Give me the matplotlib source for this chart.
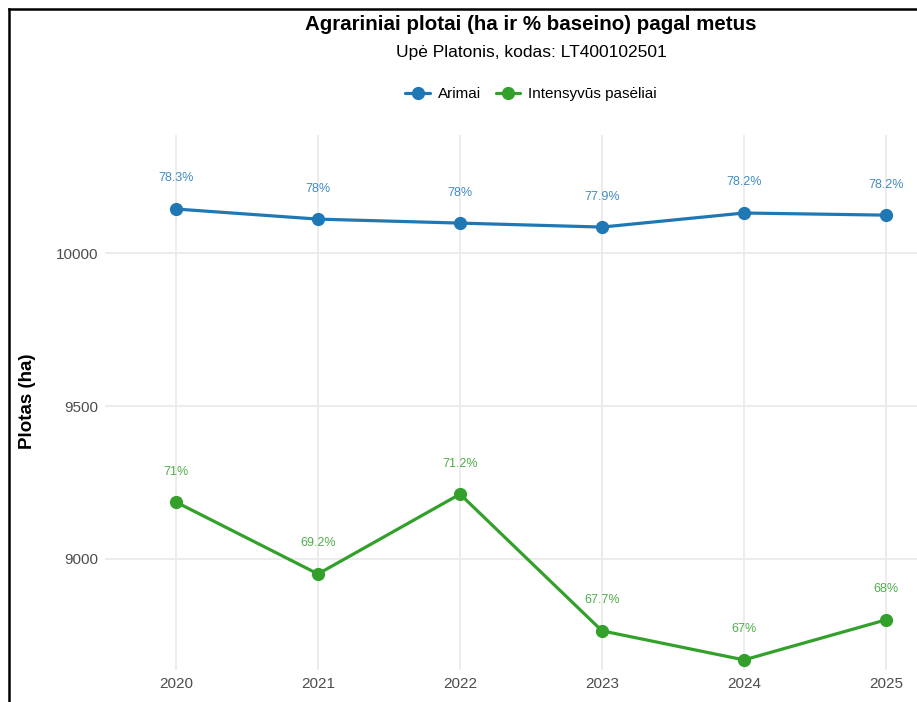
import matplotlib
matplotlib.use('Agg')
import matplotlib.pyplot as plt
from matplotlib.lines import Line2D

# duomenys (nuskaityta nuo paveikslo)
years = [2020, 2021, 2022, 2023, 2024, 2025]
arimai_ha = [10144, 10111, 10098, 10085, 10131, 10124]
arimai_pct = ["78.3%", "78%", "78%", "77.9%", "78.2%", "78.2%"]
intens_ha = [9186, 8951, 9212, 8765, 8670, 8801]
intens_pct = ["71%", "69.2%", "71.2%", "67.7%", "67%", "68%"]

BLUE = "#1f78b4"
GREEN = "#33a02c"

plt.rcParams['font.family'] = ['Liberation Sans', 'DejaVu Sans']

W, H = 917, 702
fig = plt.figure(figsize=(W / 100, H / 100), dpi=100)
fig.patch.set_facecolor("white")

# panelis (iškirptas dešinėje ir apačioje kaip originale)
left, right, top, bottom = 105, 957, 135, 670
ax = fig.add_axes([left / W, (H - bottom) / H, (right - left) / W, (bottom - top) / H])

ax.plot(years, arimai_ha, color=BLUE, lw=2.3, marker='o', ms=8.5, label="Arimai",
        solid_capstyle='round')
ax.plot(years, intens_ha, color=GREEN, lw=2.3, marker='o', ms=8.5, label="Intensyvūs pasėliai",
        solid_capstyle='round')

for x, y, t in zip(years, arimai_ha, arimai_pct):
    ax.annotate(t, (x, y), xytext=(0, 22), textcoords='offset points', ha='center', va='center',
                fontsize=9, color=BLUE, alpha=0.85)
for x, y, t in zip(years, intens_ha, intens_pct):
    ax.annotate(t, (x, y), xytext=(0, 22), textcoords='offset points', ha='center', va='center',
                fontsize=9, color=GREEN, alpha=0.85)

ax.set_xlim(2019.5, 2025.5)
ax.set_ylim(8637, 10386)
ax.set_xticks(years)
ax.set_yticks([9000, 9500, 10000])
ax.tick_params(length=0, labelsize=11, labelcolor="#4d4d4d", pad=5)
ax.grid(True, color="#ebebeb", lw=1.3)
ax.set_axisbelow(True)
for s in ax.spines.values():
    s.set_visible(False)

fig.text(28 / W, 1 - 401 / H, "Plotas (ha)", rotation=90, ha='center', va='center',
         fontsize=13.5, fontweight='bold')

cx = (left + right) / 2 / W
fig.text(cx, 1 - 25 / H, "Agrariniai plotai (ha ir % baseino) pagal metus", ha='center',
         va='center', fontsize=14.8, fontweight='bold')
fig.text(cx, 1 - 52 / H, "Upė Platonis, kodas: LT400102501", ha='center', va='center',
         fontsize=12.5)

handles, labels = ax.get_legend_handles_labels()
fig.legend(handles, labels, loc='center', bbox_to_anchor=(cx, 1 - 94 / H), ncol=2,
           frameon=False, fontsize=11, handlelength=1.6, handletextpad=0.5, columnspacing=1.0)

# rėmelis
fig.add_artist(Line2D([9 / W, 9 / W], [0, 1 - 9 / H], color="black", lw=1.8,
                      transform=fig.transFigure))
fig.add_artist(Line2D([9 / W, 1], [1 - 9 / H, 1 - 9 / H], color="black", lw=1.8,
                      transform=fig.transFigure))

fig.savefig("out.png", dpi=100)
